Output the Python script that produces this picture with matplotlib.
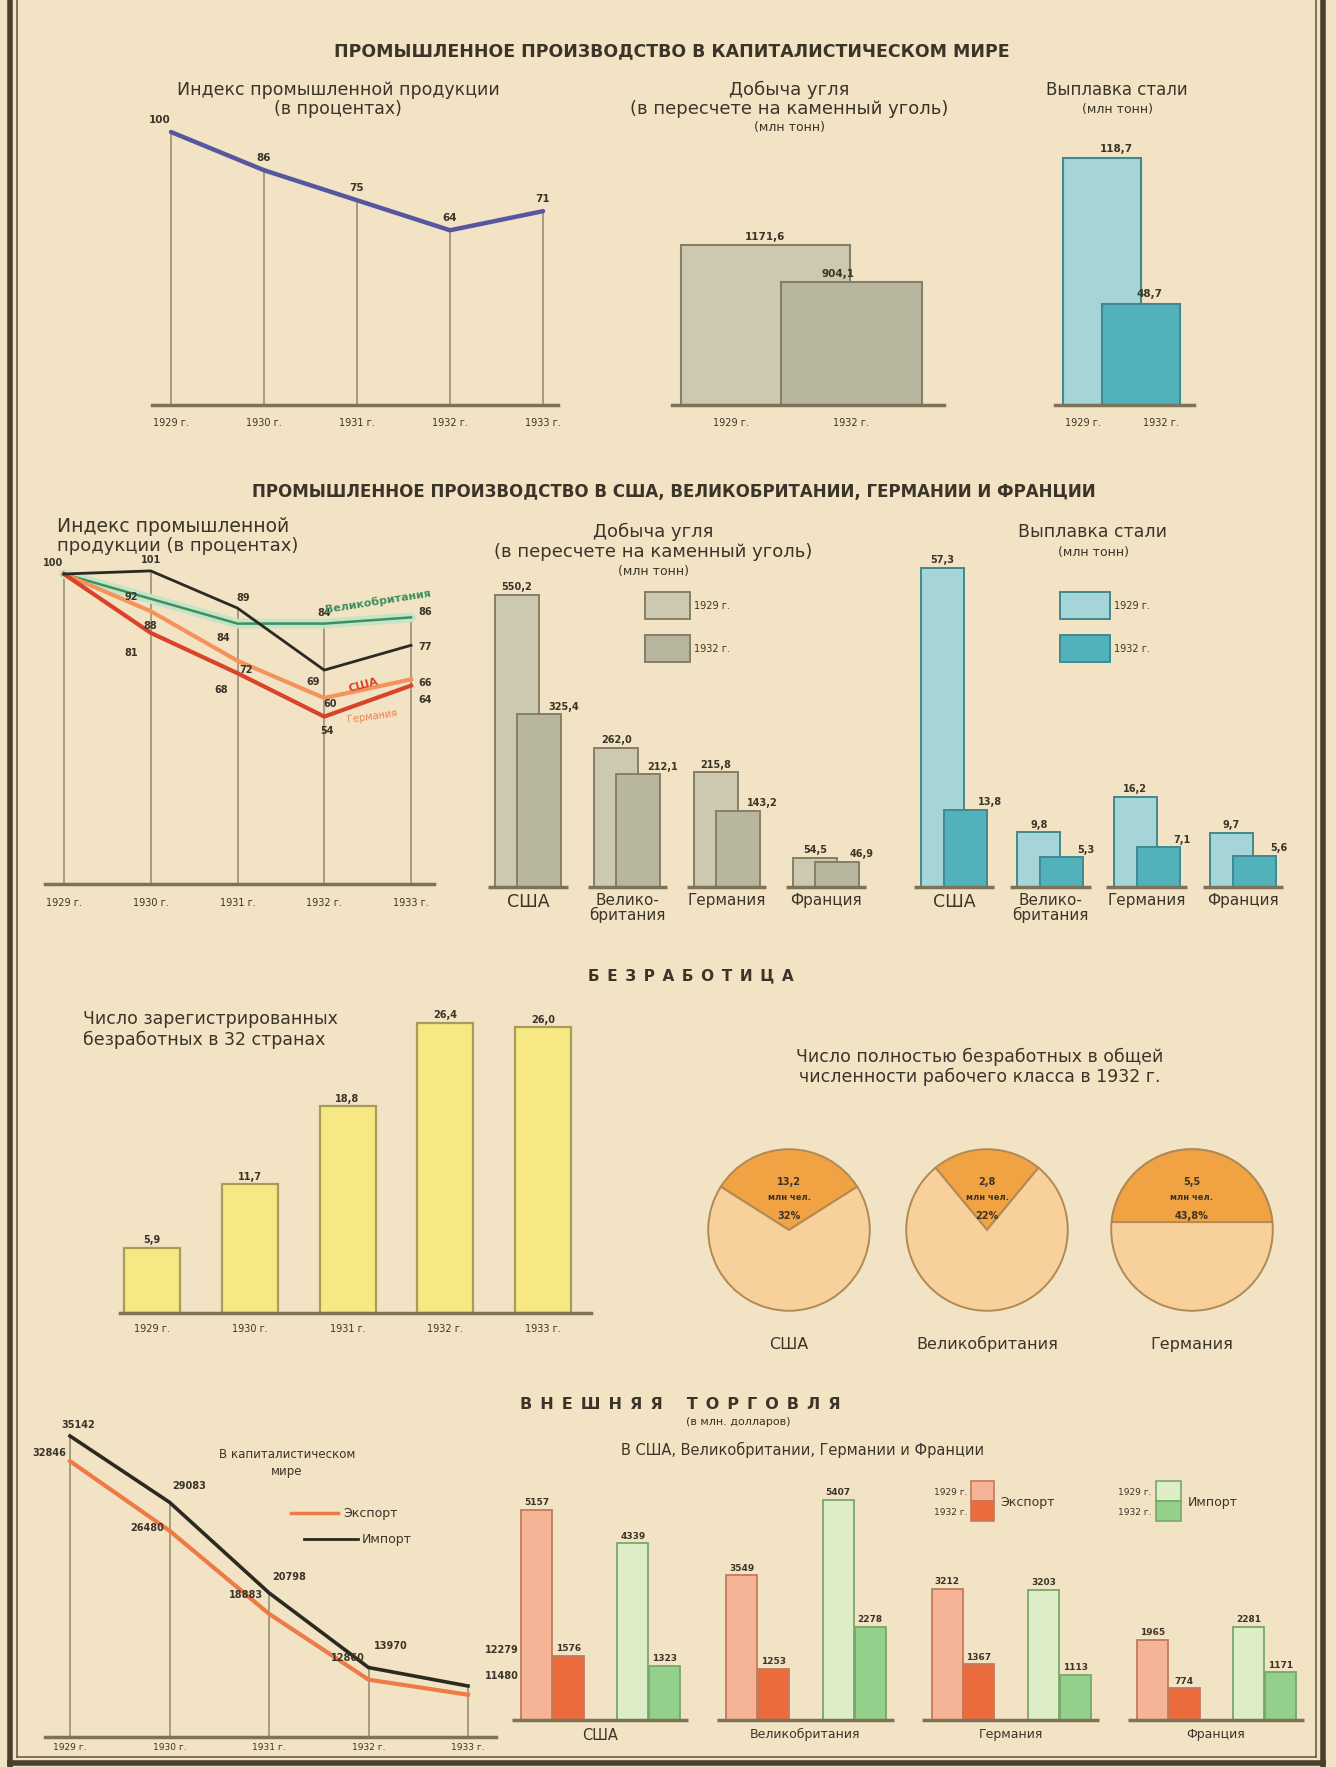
import math
import matplotlib
matplotlib.use('Agg')
import matplotlib.pyplot as plt
from matplotlib.patches import Rectangle

W, H = 1336, 1767

plt.rcParams['font.family'] = ['DejaVu Sans']

# ---------------- values
years = ['1929 г.', '1930 г.', '1931 г.', '1932 г.', '1933 г.']
world_index = [100, 86, 75, 64, 71]

pair_years = ['1929 г.', '1932 г.']
world_coal = [1171.6, 904.1]
world_steel = [118.7, 48.7]

countries = ['США', 'Велико-\nбритания', 'Германия', 'Франция']
index_usa = [100, 81, 68, 54, 64]
index_uk = [100, 92, 84, 84, 86]
index_ger = [100, 88, 72, 60, 66]
index_fra = [100, 101, 89, 69, 77]

coal_1929 = [550.2, 262.0, 215.8, 54.5]
coal_1932 = [325.4, 212.1, 143.2, 46.9]
steel_1929 = [57.3, 9.8, 16.2, 9.7]
steel_1932 = [13.8, 5.3, 7.1, 5.6]

unemployed = [5.9, 11.7, 18.8, 26.4, 26.0]

pie_countries = ['США', 'Великобритания', 'Германия']
pie_millions = [13.2, 2.8, 5.5]
pie_share = [32, 22, 43.8]

world_import = [35142, 29083, 20798, 13970, 12279]
world_export = [32846, 26480, 18883, 12860, 11480]

trade_countries = ['США', 'Великобритания', 'Германия', 'Франция']
export_1929 = [5157, 3549, 3212, 1965]
export_1932 = [1576, 1253, 1367, 774]
import_1929 = [4339, 5407, 3203, 2281]
import_1932 = [1323, 2278, 1113, 1171]

# ---------------- colours
BG = '#f2e3c4'
INK = '#3b3428'
GRID = '#9f967c'
BASE = '#7d7358'
BLUE = '#5657a0'
COAL29, COAL32, COAL_EDGE = '#cdc8b0', '#b9b69f', '#857f68'
STEEL29, STEEL32, STEEL_EDGE = '#a6d5d8', '#52b2bb', '#3f8a90'
YEL, YEL_EDGE = '#f6e882', '#a99b5c'
PIE_LIGHT, PIE_DARK, PIE_EDGE = '#f8d09c', '#f1a243', '#b08a55'
EXP29, EXP32, EXP_EDGE = '#f6b497', '#ec6b3d', '#c37a5c'
IMP29, IMP32, IMP_EDGE = '#dcedc8', '#93d08c', '#7aa76b'


def num(v):
    return f'{v:.1f}'.replace('.', ',')


def pct(v):
    return f'{v:g}'.replace('.', ',') + '%'


def spaced(s):
    # letter-spaced heading, as set on the sheet
    return '\u2002'.join(s)


fig = plt.figure(figsize=(W / 100, H / 100), dpi=100, facecolor=BG)
ov = fig.add_axes([0, 0, 1, 1])
ov.set_xlim(0, W)
ov.set_ylim(H, 0)
ov.axis('off')


def txt(x, y, s, size=12, weight='normal', ha='center', color=INK, **kw):
    ov.text(x, y, s, fontsize=size, fontweight=weight, ha=ha, va='center',
            color=color, **kw)


def panel(px0, px1, py_top, py_bot, xa, ya):
    """axes on a pixel box; xa/ya = (value, pixel, value, pixel) anchors"""
    ax = fig.add_axes([px0 / W, 1 - py_bot / H, (px1 - px0) / W, (py_bot - py_top) / H])
    sx = (xa[3] - xa[1]) / (xa[2] - xa[0])
    ax.set_xlim(xa[0] + (px0 - xa[1]) / sx, xa[0] + (px1 - xa[1]) / sx)
    sy = (ya[1] - ya[3]) / (ya[2] - ya[0])
    ax.set_ylim(ya[0] - (py_bot - ya[1]) / sy, ya[0] + (ya[1] - py_top) / sy)
    ax.axis('off')
    return ax, sx, sy


def unclip(ax):
    for a in ax.get_children():
        try:
            a.set_clip_on(False)
        except AttributeError:
            pass


def label(ax, s, x, y, dx=0, dy=4, ha='center', va='bottom', size=7.5, **kw):
    ax.annotate(s, (x, y), xytext=(dx, dy), textcoords='offset points',
                ha=ha, va=va, fontsize=size, fontweight='bold', color=INK, **kw)


def group_base(ax, n, half):
    ax.hlines([0] * n, [c - half for c in range(n)], [c + half for c in range(n)],
              color=BASE, lw=2.5)


# ---------------- frame
ov.plot([10, 10], [0, H], color='#4a3f2c', lw=4)
ov.plot([17, 17], [0, 1757], color='#6b5f45', lw=1.2)
ov.plot([1323, 1323], [0, H], color='#4a3f2c', lw=4)
ov.plot([1316, 1316], [0, 1757], color='#6b5f45', lw=1.2)
ov.plot([10, 1323], [1763, 1763], color='#4a3f2c', lw=4)
ov.plot([17, 1316], [1757, 1757], color='#6b5f45', lw=1.2)

# ================= section 1
txt(672, 51, 'ПРОМЫШЛЕННОЕ ПРОИЗВОДСТВО В КАПИТАЛИСТИЧЕСКОМ МИРЕ', size=12.5, weight='bold')

txt(338, 90, 'Индекс промышленной продукции', size=12.5)
txt(338, 109, '(в процентах)', size=12.5)
ax, sx, sy = panel(152, 558, 115, 405, (0, 171, 4, 543), (0, 405, 100, 132))
xs = list(range(len(years)))
ax.vlines(xs, 0, world_index, color=GRID, lw=1.3)
ax.axhline(0, color=BASE, lw=2.5)
ax.plot(xs, world_index, color=BLUE, lw=3.2, solid_capstyle='round')
for i, v in enumerate(world_index):
    label(ax, str(v), i, v, dx=-8 if i == 0 else 0, dy=5)
    ax.annotate(years[i], (i, 0), xytext=(0, -9), textcoords='offset points',
                ha='center', va='top', fontsize=7, color=INK)
unclip(ax)

txt(789, 90, 'Добыча угля', size=13)
txt(789, 109, '(в пересчете на каменный уголь)', size=13)
txt(789, 127, '(млн тонн)', size=9)
ax, sx, sy = panel(672, 944, 200, 405, (0, 765, 1, 851), (0, 405, 1171.6, 245))
w1, w2 = 169 / sx, 141 / sx
ax.bar(0, world_coal[0], width=w1, color=COAL29, edgecolor=COAL_EDGE, lw=1.5)
ax.bar(1, world_coal[1], width=w2, color=COAL32, edgecolor=COAL_EDGE, lw=1.5)
ax.axhline(0, color=BASE, lw=2.5)
label(ax, num(world_coal[0]), 0, world_coal[0], dy=2)
label(ax, num(world_coal[1]), 1, world_coal[1], dx=-9, dy=2)
ax.annotate(pair_years[0], ((-w1 / 2 + 1 - w2 / 2) / 2, 0), xytext=(0, -9), textcoords='offset points',
            ha='center', va='top', fontsize=7, color=INK)
ax.annotate(pair_years[1], (1, 0), xytext=(0, -9), textcoords='offset points',
            ha='center', va='top', fontsize=7, color=INK)
unclip(ax)

txt(1117, 90, 'Выплавка стали', size=12)
txt(1117, 109, '(млн тонн)', size=9)
ax, sx, sy = panel(1055, 1194, 120, 405, (0, 1102, 1, 1141), (0, 405, 118.7, 158))
ws = 78 / sx
ax.bar(0, world_steel[0], width=ws, color=STEEL29, edgecolor=STEEL_EDGE, lw=1.5)
ax.bar(1, world_steel[1], width=ws, color=STEEL32, edgecolor=STEEL_EDGE, lw=1.5)
ax.axhline(0, color=BASE, lw=2.5)
label(ax, num(world_steel[0]), 0, world_steel[0], dx=10, dy=3)
label(ax, num(world_steel[1]), 1, world_steel[1], dx=6, dy=3)
ax.annotate(pair_years[0], ((-ws / 2 + 1 - ws / 2) / 2, 0), xytext=(0, -9), textcoords='offset points',
            ha='center', va='top', fontsize=7, color=INK)
ax.annotate(pair_years[1], (1 + ws / 4, 0), xytext=(0, -9), textcoords='offset points',
            ha='center', va='top', fontsize=7, color=INK)
unclip(ax)

# ================= section 2
txt(674, 492, 'ПРОМЫШЛЕННОЕ ПРОИЗВОДСТВО В США, ВЕЛИКОБРИТАНИИ, ГЕРМАНИИ И ФРАНЦИИ',
    size=12, weight='bold')

txt(57, 526, 'Индекс промышленной', size=13.5, ha='left')
txt(57, 546, 'продукции (в процентах)', size=13, ha='left')
ax, sx, sy = panel(45, 434, 555, 884, (0, 64, 4, 411), (0, 884, 100, 574))
tops = [max(a, b, c, d) for a, b, c, d in zip(index_usa, index_uk, index_ger, index_fra)]
ax.vlines(xs, 0, tops, color=GRID, lw=1.3)
ax.axhline(0, color=BASE, lw=2.5)
ax.plot(xs, index_uk, color='#c4e4c6', lw=7, solid_capstyle='round')
ax.plot(xs, index_uk, color='#3f8f60', lw=1.8)
ax.plot(xs, index_ger, color='#f4935a', lw=3)
ax.plot(xs, index_usa, color='#d8432a', lw=3)
ax.plot(xs, index_fra, color='#2a2a22', lw=2)
label(ax, '100', 0, 100, dx=-8, dy=4, size=7)
fra_off = [None, (0, 4), (4, 4), (-8, -12), (10, -5)]
uk_off = [None, (-14, -2), (-10, -14), (0, 4), (10, 0)]
ger_off = [None, (0, -14), (6, -10), (4, -8), (10, -6)]
usa_off = [None, (-14, -18), (-12, -16), (2, -14), (10, -14)]
for vals, offs in [(index_fra, fra_off), (index_uk, uk_off), (index_ger, ger_off), (index_usa, usa_off)]:
    for i in range(1, 5):
        label(ax, str(vals[i]), i, vals[i], dx=offs[i][0], dy=offs[i][1], size=7)
for i in xs:
    ax.annotate(years[i], (i, 0), xytext=(0, -10), textcoords='offset points',
                ha='center', va='top', fontsize=7, color=INK)
ax.text(3.62, (index_uk[3] + index_uk[4]) / 2 + 6, 'Великобритания', color='#3f8f60',
        fontsize=8, fontweight='bold', rotation=9, ha='center', va='center')
ax.text(3.45, (index_usa[3] + index_usa[4]) / 2 + 5, 'США', color='#d8432a',
        fontsize=8, fontweight='bold', rotation=15, ha='center', va='center')
ax.text(3.55, (index_ger[3] + index_ger[4]) / 2 - 9, 'Германия', color='#f08050',
        fontsize=7, rotation=8, ha='center', va='center')
unclip(ax)

# coal by country
txt(653, 532, 'Добыча угля', size=13)
txt(653, 552, '(в пересчете на каменный уголь)', size=13)
txt(653, 571, '(млн тонн)', size=9)
ax, sx, sy = panel(470, 880, 560, 887, (0, 528, 3, 826), (0, 887, 550.2, 595))
cx = list(range(len(countries)))
bw, off = 44 / sx, 11 / sx
ax.bar([c - off for c in cx], coal_1929, width=bw, color=COAL29, edgecolor=COAL_EDGE, lw=1.4)
ax.bar([c + off for c in cx], coal_1932, width=bw, color=COAL32, edgecolor=COAL_EDGE, lw=1.4)
group_base(ax, len(cx), 0.4)
for c in cx:
    label(ax, num(coal_1929[c]), c - off, coal_1929[c], dy=2, size=7)
    label(ax, num(coal_1932[c]), c + off + bw / 2, coal_1932[c], dx=2, dy=2, size=7)
    ax.annotate(countries[c], (c, 0), xytext=(0, -4), textcoords='offset points',
                ha='center', va='top', fontsize=11 if c else 12.5, color=INK, linespacing=0.95)
unclip(ax)
ov.add_patch(Rectangle((645, 592), 45, 27, facecolor=COAL29, edgecolor=COAL_EDGE, lw=1.4))
ov.add_patch(Rectangle((645, 635), 45, 27, facecolor=COAL32, edgecolor=COAL_EDGE, lw=1.4))
txt(694, 606, pair_years[0], size=7, ha='left')
txt(694, 649, pair_years[1], size=7, ha='left')

# steel by country
txt(1093, 532, 'Выплавка стали', size=12.5)
txt(1093, 552, '(млн тонн)', size=9)
ax, sx, sy = panel(905, 1300, 560, 887, (0, 954, 3, 1243), (0, 887, 57.3, 568))
bw, off = 43 / sx, 11.5 / sx
ax.bar([c - off for c in cx], steel_1929, width=bw, color=STEEL29, edgecolor=STEEL_EDGE, lw=1.4)
ax.bar([c + off for c in cx], steel_1932, width=bw, color=STEEL32, edgecolor=STEEL_EDGE, lw=1.4)
group_base(ax, len(cx), 0.42)
for c in cx:
    label(ax, num(steel_1929[c]), c - off, steel_1929[c], dy=2, size=7)
    label(ax, num(steel_1932[c]), c + off + bw / 2, steel_1932[c], dx=2, dy=2, size=7)
    ax.annotate(countries[c], (c, 0), xytext=(0, -4), textcoords='offset points',
                ha='center', va='top', fontsize=11 if c else 12.5, color=INK, linespacing=0.95)
unclip(ax)
ov.add_patch(Rectangle((1060, 592), 50, 27, facecolor=STEEL29, edgecolor=STEEL_EDGE, lw=1.4))
ov.add_patch(Rectangle((1060, 635), 50, 27, facecolor=STEEL32, edgecolor=STEEL_EDGE, lw=1.4))
txt(1114, 606, pair_years[0], size=7, ha='left')
txt(1114, 649, pair_years[1], size=7, ha='left')

# ================= section 3: unemployment
txt(691, 976, spaced('БЕЗРАБОТИЦА'), size=11, weight='bold')
txt(83, 1019, 'Число зарегистрированных', size=12.5, ha='left')
txt(83, 1040, 'безработных в 32 странах', size=12.5, ha='left')
ax, sx, sy = panel(120, 591, 990, 1313, (0, 152, 4, 543), (0, 1313, 26.4, 1023))
ax.bar(xs, unemployed, width=56 / sx, color=YEL, edgecolor=YEL_EDGE, lw=1.6)
ax.axhline(0, color=BASE, lw=2.5)
for i, v in enumerate(unemployed):
    label(ax, num(v), i, v, dy=2, size=7)
    ax.annotate(years[i], (i, 0), xytext=(0, -8), textcoords='offset points',
                ha='center', va='top', fontsize=7, color=INK)
unclip(ax)

txt(980, 1057, 'Число полностью безработных в общей', size=12.5)
txt(980, 1077, 'численности рабочего класса в 1932 г.', size=12.5)
pie_x = [789, 987, 1192]
R = 81
for k, name in enumerate(pie_countries):
    cxp, cyp = pie_x[k], 1230
    pa = fig.add_axes([(cxp - R - 3) / W, 1 - (cyp + R + 3) / H, (2 * R + 6) / W, (2 * R + 6) / H])
    share = pie_share[k]
    wp = dict(edgecolor=PIE_EDGE, linewidth=1.4)
    if k < 2:
        pa.pie([share, 100 - share], colors=[PIE_DARK, PIE_LIGHT],
               startangle=90 - share * 1.8, counterclock=True, wedgeprops=wp)
    else:
        pa.pie([100], colors=[PIE_LIGHT], wedgeprops=wp)
        # chord height that cuts off the given share of the disc
        lo, hi = -1.0, 1.0
        for _ in range(60):
            d = (lo + hi) / 2
            f = (math.acos(d) - d * math.sqrt(1 - d * d)) / math.pi
            if f > share / 100:
                lo = d
            else:
                hi = d
        t0 = math.asin(d)
        ts = [t0 + (math.pi - 2 * t0) * j / 80 for j in range(81)]
        pa.fill([math.cos(t) for t in ts], [math.sin(t) for t in ts],
                facecolor=PIE_DARK, edgecolor=PIE_EDGE, lw=1.4)
    pa.set_xlim(-1.04, 1.04)
    pa.set_ylim(-1.04, 1.04)
    pa.set_aspect('equal')
    pa.axis('off')
    pa.text(0, 0.6, num(pie_millions[k]), ha='center', va='center', fontsize=7, fontweight='bold', color=INK)
    pa.text(0, 0.4, 'млн чел.', ha='center', va='center', fontsize=6, fontweight='bold', color=INK)
    pa.text(0, 0.17, pct(share), ha='center', va='center', fontsize=7, fontweight='bold', color=INK)
    txt(cxp, 1344, name, size=11.5)

# ================= section 4: foreign trade
txt(680, 1404, spaced('ВНЕШНЯЯ') + '\u2003\u2002' + spaced('ТОРГОВЛЯ'), size=11.5, weight='bold')
txt(738, 1422, '(в млн. долларов)', size=8)
txt(287, 1454, 'В капиталистическом', size=8.5)
txt(287, 1471, 'мире', size=8.5)
txt(803, 1450, 'В США, Великобритании, Германии и Франции', size=10.5)

ax, sx, sy = panel(45, 496, 1400, 1737, (0, 70, 4, 468), (35142, 1436, 12279, 1686))
floor = ax.get_ylim()[0]
ax.vlines(xs, floor, [max(a, b) for a, b in zip(world_import, world_export)], color=GRID, lw=1.3)
ax.axhline(floor, color=BASE, lw=2.5)
ax.plot(xs, world_export, color='#ee7a45', lw=3)
ax.plot(xs, world_import, color='#2a2a20', lw=2.6)
imp_off = [(6, 4, 'center'), (2, 8, 'left'), (2, 8, 'left'), (4, 12, 'left'), (12, 22, 'left')]
exp_off = [(-3, 2, 'right'), (-4, -2, 'right'), (-4, 10, 'right'), (-3, 12, 'right'), (12, 10, 'left')]
for i in xs:
    dx, dy, ha = imp_off[i]
    label(ax, str(world_import[i]), i, world_import[i], dx=dx, dy=dy, ha=ha, size=7)
    dx, dy, ha = exp_off[i]
    label(ax, str(world_export[i]), i, world_export[i], dx=dx, dy=dy, ha=ha, size=7)
    ax.annotate(years[i], (i, floor), xytext=(0, -4), textcoords='offset points',
                ha='center', va='top', fontsize=6.5, color=INK)
unclip(ax)
ov.plot([291, 338], [1513, 1513], color='#ee7a45', lw=2.5)
txt(343, 1513, 'Экспорт', size=9, ha='left')
ov.plot([304, 358], [1539, 1539], color='#2a2a20', lw=2)
txt(362, 1539, 'Импорт', size=9, ha='left')

ax, sx, sy = panel(500, 1310, 1440, 1720, (0, 600, 3, 1216), (0, 1720, 5157, 1510))
tx = list(range(len(trade_countries)))
tw = 31 / sx
series = [(export_1929, -0.31, EXP29, EXP_EDGE), (export_1932, -0.155, EXP32, EXP_EDGE),
          (import_1929, 0.16, IMP29, IMP_EDGE), (import_1932, 0.315, IMP32, IMP_EDGE)]
for vals, o, fc, ec in series:
    ax.bar([c + o for c in tx], vals, width=tw, color=fc, edgecolor=ec, lw=1.3)
    for c in tx:
        label(ax, str(vals[c]), c + o, vals[c], dy=2, size=6.5)
group_base(ax, len(tx), 0.43)
for c in tx:
    ax.annotate(trade_countries[c], (c, 0), xytext=(0, -6), textcoords='offset points',
                ha='center', va='top', fontsize=9 if c else 10.5, color=INK)
unclip(ax)
txt(967, 1492, pair_years[0], size=6.5, ha='right')
txt(967, 1512, pair_years[1], size=6.5, ha='right')
ov.add_patch(Rectangle((971, 1481), 23, 20, facecolor=EXP29, edgecolor=EXP_EDGE, lw=1.2))
ov.add_patch(Rectangle((971, 1501), 23, 20, facecolor=EXP32, edgecolor=EXP_EDGE, lw=1.2))
txt(1000, 1502, 'Экспорт', size=9, ha='left')
txt(1152, 1492, pair_years[0], size=6.5, ha='right')
txt(1152, 1512, pair_years[1], size=6.5, ha='right')
ov.add_patch(Rectangle((1156, 1481), 25, 20, facecolor=IMP29, edgecolor=IMP_EDGE, lw=1.2))
ov.add_patch(Rectangle((1156, 1501), 25, 20, facecolor=IMP32, edgecolor=IMP_EDGE, lw=1.2))
txt(1188, 1502, 'Импорт', size=9, ha='left')

fig.savefig('out.png', dpi=100, facecolor=BG)
